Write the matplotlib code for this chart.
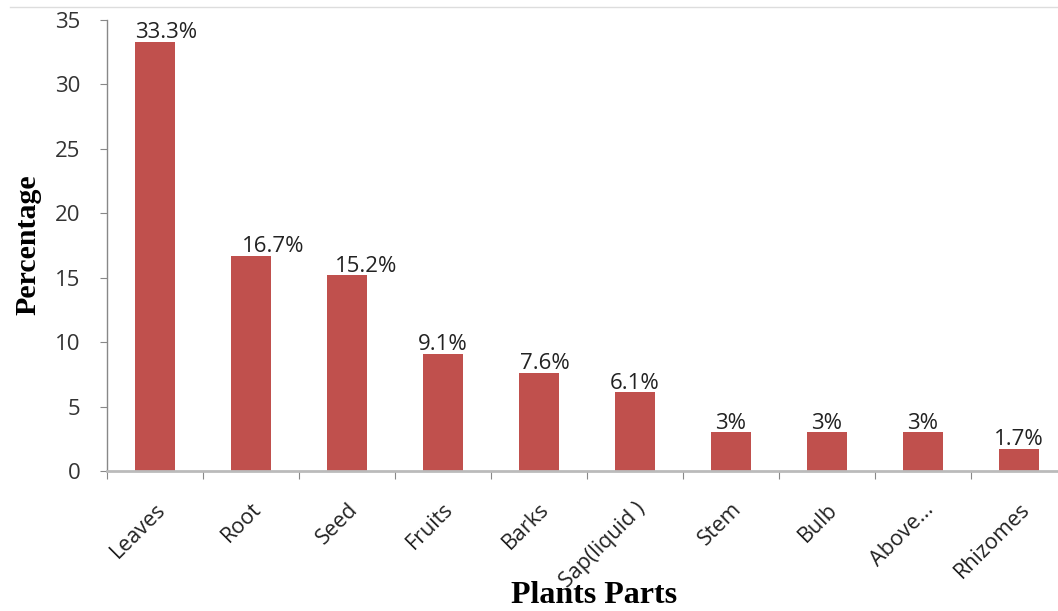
import matplotlib
matplotlib.use("Agg")
import matplotlib.pyplot as plt
from matplotlib.lines import Line2D

categories = ["Leaves", "Root", "Seed", "Fruits", "Barks", "Sap(liquid )",
              "Stem", "Bulb", "Above...", "Rhizomes"]
values = [33.3, 16.7, 15.2, 9.1, 7.6, 6.1, 3, 3, 3, 1.7]
labels = ["33.3%", "16.7%", "15.2%", "9.1%", "7.6%", "6.1%", "3%", "3%", "3%", "1.7%"]
label_dx = [8, 16, 14, 0, 4, 0, 0, 0, 0, 0]  # manual label nudges (points)

W, H = 1058, 611
fig = plt.figure(figsize=(W / 100, H / 100), dpi=100)
ax = fig.add_axes([107 / W, 1 - 471 / H, 960 / W, (471 - 20) / H])

color = "#C0504D"
x = list(range(len(categories)))
ax.bar(x, values, width=0.41, color=color, zorder=2)
ax.set_xlim(-0.5, len(categories) - 0.5)
ax.set_ylim(0, 35)
ax.set_yticks(range(0, 36, 5))

tick_font = "Open Sans"
for xi, v, lab, dx in zip(x, values, labels, label_dx):
    ax.annotate(lab, (xi, v), xytext=(dx, -1), textcoords="offset points",
                ha="center", va="bottom", fontsize=16, family=tick_font, color="#222222")

ax.set_xticks([i - 0.5 for i in range(len(categories) + 1)], minor=False)
ax.set_xticklabels([])
ax.set_xticks(x, minor=True)
ax.set_xticklabels(categories, minor=True, rotation=45, ha="right",
                   rotation_mode="anchor", fontsize=15.5, family=tick_font, color="#222222")
ax.tick_params(axis="x", which="minor", length=0, pad=20)
ax.tick_params(axis="x", which="major", length=6, color="#888888", direction="out")
ax.tick_params(axis="y", length=5, color="#888888", labelsize=16, pad=14, labelcolor="#333333")
for t in ax.get_yticklabels():
    t.set_family(tick_font)

for s in ["top", "right"]:
    ax.spines[s].set_visible(False)
ax.spines["left"].set_color("#888888")
ax.spines["left"].set_linewidth(1.0)
ax.spines["bottom"].set_color("#bbbbbb")
ax.spines["bottom"].set_linewidth(2.0)

fig.text(28 / W, 1 - 245 / H, "Percentage", rotation=90, ha="center", va="center",
         fontsize=21.5, fontweight="bold", family="Liberation Serif")
fig.text(594 / W, 1 - 603 / H, "Plants Parts", ha="center", va="baseline",
         fontsize=23, fontweight="bold", family="Liberation Serif")

fig.add_artist(Line2D([10 / W, 1], [1 - 7 / H, 1 - 7 / H], transform=fig.transFigure,
                      color="#dddddd", linewidth=1))

fig.savefig("out.png", dpi=100)
